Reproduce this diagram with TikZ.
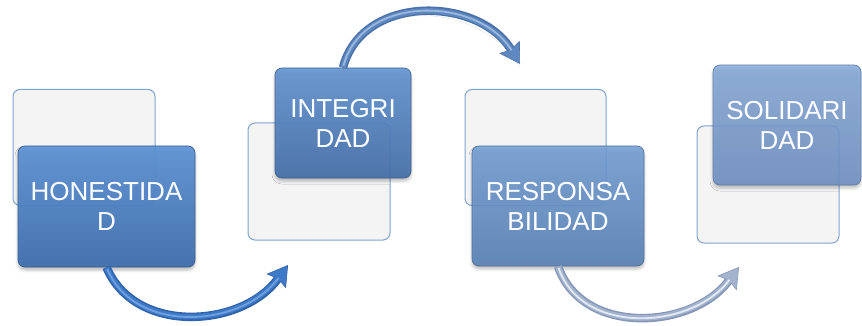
\documentclass[tikz,border=0pt]{standalone}
\usepackage{fontspec}
\setmainfont{Liberation Sans}
\usetikzlibrary{arrows.meta,shadows.blur}

\definecolor{cardfill}{HTML}{F4F4F4}
\definecolor{cardline}{HTML}{7FA4D2}
\definecolor{topA}{HTML}{5D93D6}\definecolor{botA}{HTML}{3E6EAE}
\definecolor{topB}{HTML}{6394D2}\definecolor{botB}{HTML}{436FAA}
\definecolor{topC}{HTML}{74A0D6}\definecolor{botC}{HTML}{5680B6}
\definecolor{topD}{HTML}{86AADA}\definecolor{botD}{HTML}{6C8FC2}
% connector colours: edge, body, highlight
\definecolor{edgeA}{HTML}{2F62A8}\definecolor{bodyA}{HTML}{3F7AC8}\definecolor{glowA}{HTML}{6FA0E0}
\definecolor{edgeB}{HTML}{4A72A8}\definecolor{bodyB}{HTML}{5F88C0}\definecolor{glowB}{HTML}{9BB8DE}
\definecolor{edgeC}{HTML}{8596B6}\definecolor{bodyC}{HTML}{A3B3CE}\definecolor{glowC}{HTML}{E4EAF3}

\tikzset{
  card/.style={draw=cardline, line width=1pt, rounded corners=7pt, fill=cardfill,
    minimum width=142pt, minimum height=116pt, inner sep=0pt},
  valuebox/.style n args={4}{rounded corners=7pt, top color=#1, bottom color=#2,
    draw=#2!80!black, line width=0.7pt, fill opacity=#3, draw opacity=#3, text opacity=1,
    text=white, font=\fontsize{26}{30}\selectfont, align=center, inner sep=0pt,
    minimum width=#4,
    blur shadow={shadow xshift=0pt, shadow yshift=-3pt, shadow blur radius=3pt, shadow opacity=30}},
  tube/.style n args={3}{line width=8.5pt, draw=#1, line cap=butt,
    -{Stealth[length=20pt, width=24pt, inset=3pt, line width=0.6pt, fill=#2]},
    preaction={draw=black, draw opacity=0.12, transform canvas={yshift=-3pt}, -},
    postaction={draw=#2, line width=5.5pt, shorten >=15pt, shorten <=0.5pt, -},
    postaction={draw=#3, line width=1.8pt, shorten >=16pt, shorten <=2pt, -}},
}

\begin{document}
\begin{tikzpicture}[x=1pt,y=-1pt]
\useasboundingbox (0,0) rectangle (862,326);

% back cards
\node[card] (c1) at (84,147.5) {};
\node[card, minimum height=117pt] (c2) at (319,181.5) {};
\node[card, minimum width=141pt] (c3) at (535.5,147.5) {};
\node[card, minimum height=117pt] (c4) at (768,184.5) {};

% value boxes
\node[valuebox={topA}{botA}{0.93}{177pt}, minimum height=121pt] (b1) at (106.5,206.5) {HONESTIDA\\D};
\node[valuebox={topB}{botB}{0.9}{136pt}, minimum height=110pt] (b2) at (343,123) {INTEGRI\\DAD};
\node[valuebox={topC}{botC}{0.88}{172pt}, minimum height=120pt] (b3) at (558,206) {RESPONSA\\BILIDAD};
\node[valuebox={topD}{botD}{0.85}{148pt}, minimum height=120pt] (b4) at (787,125) {SOLIDARI\\DAD};

% connectors
\coordinate (a1end) at (288,265);
\coordinate (a2end) at (520,64);
\coordinate (a3end) at (739,267);

\draw[tube={edgeA}{bodyA}{glowA}] (b1.south) .. controls (135,335) and (242,328) .. (a1end);
\draw[tube={edgeB}{bodyB}{glowB}] (b2.north) .. controls (362,-6) and (478,-4) .. (a2end);
\draw[tube={edgeC}{bodyC}{glowC}] (b3.south) .. controls (582,336) and (692,330) .. (a3end);

\end{tikzpicture}
\end{document}
